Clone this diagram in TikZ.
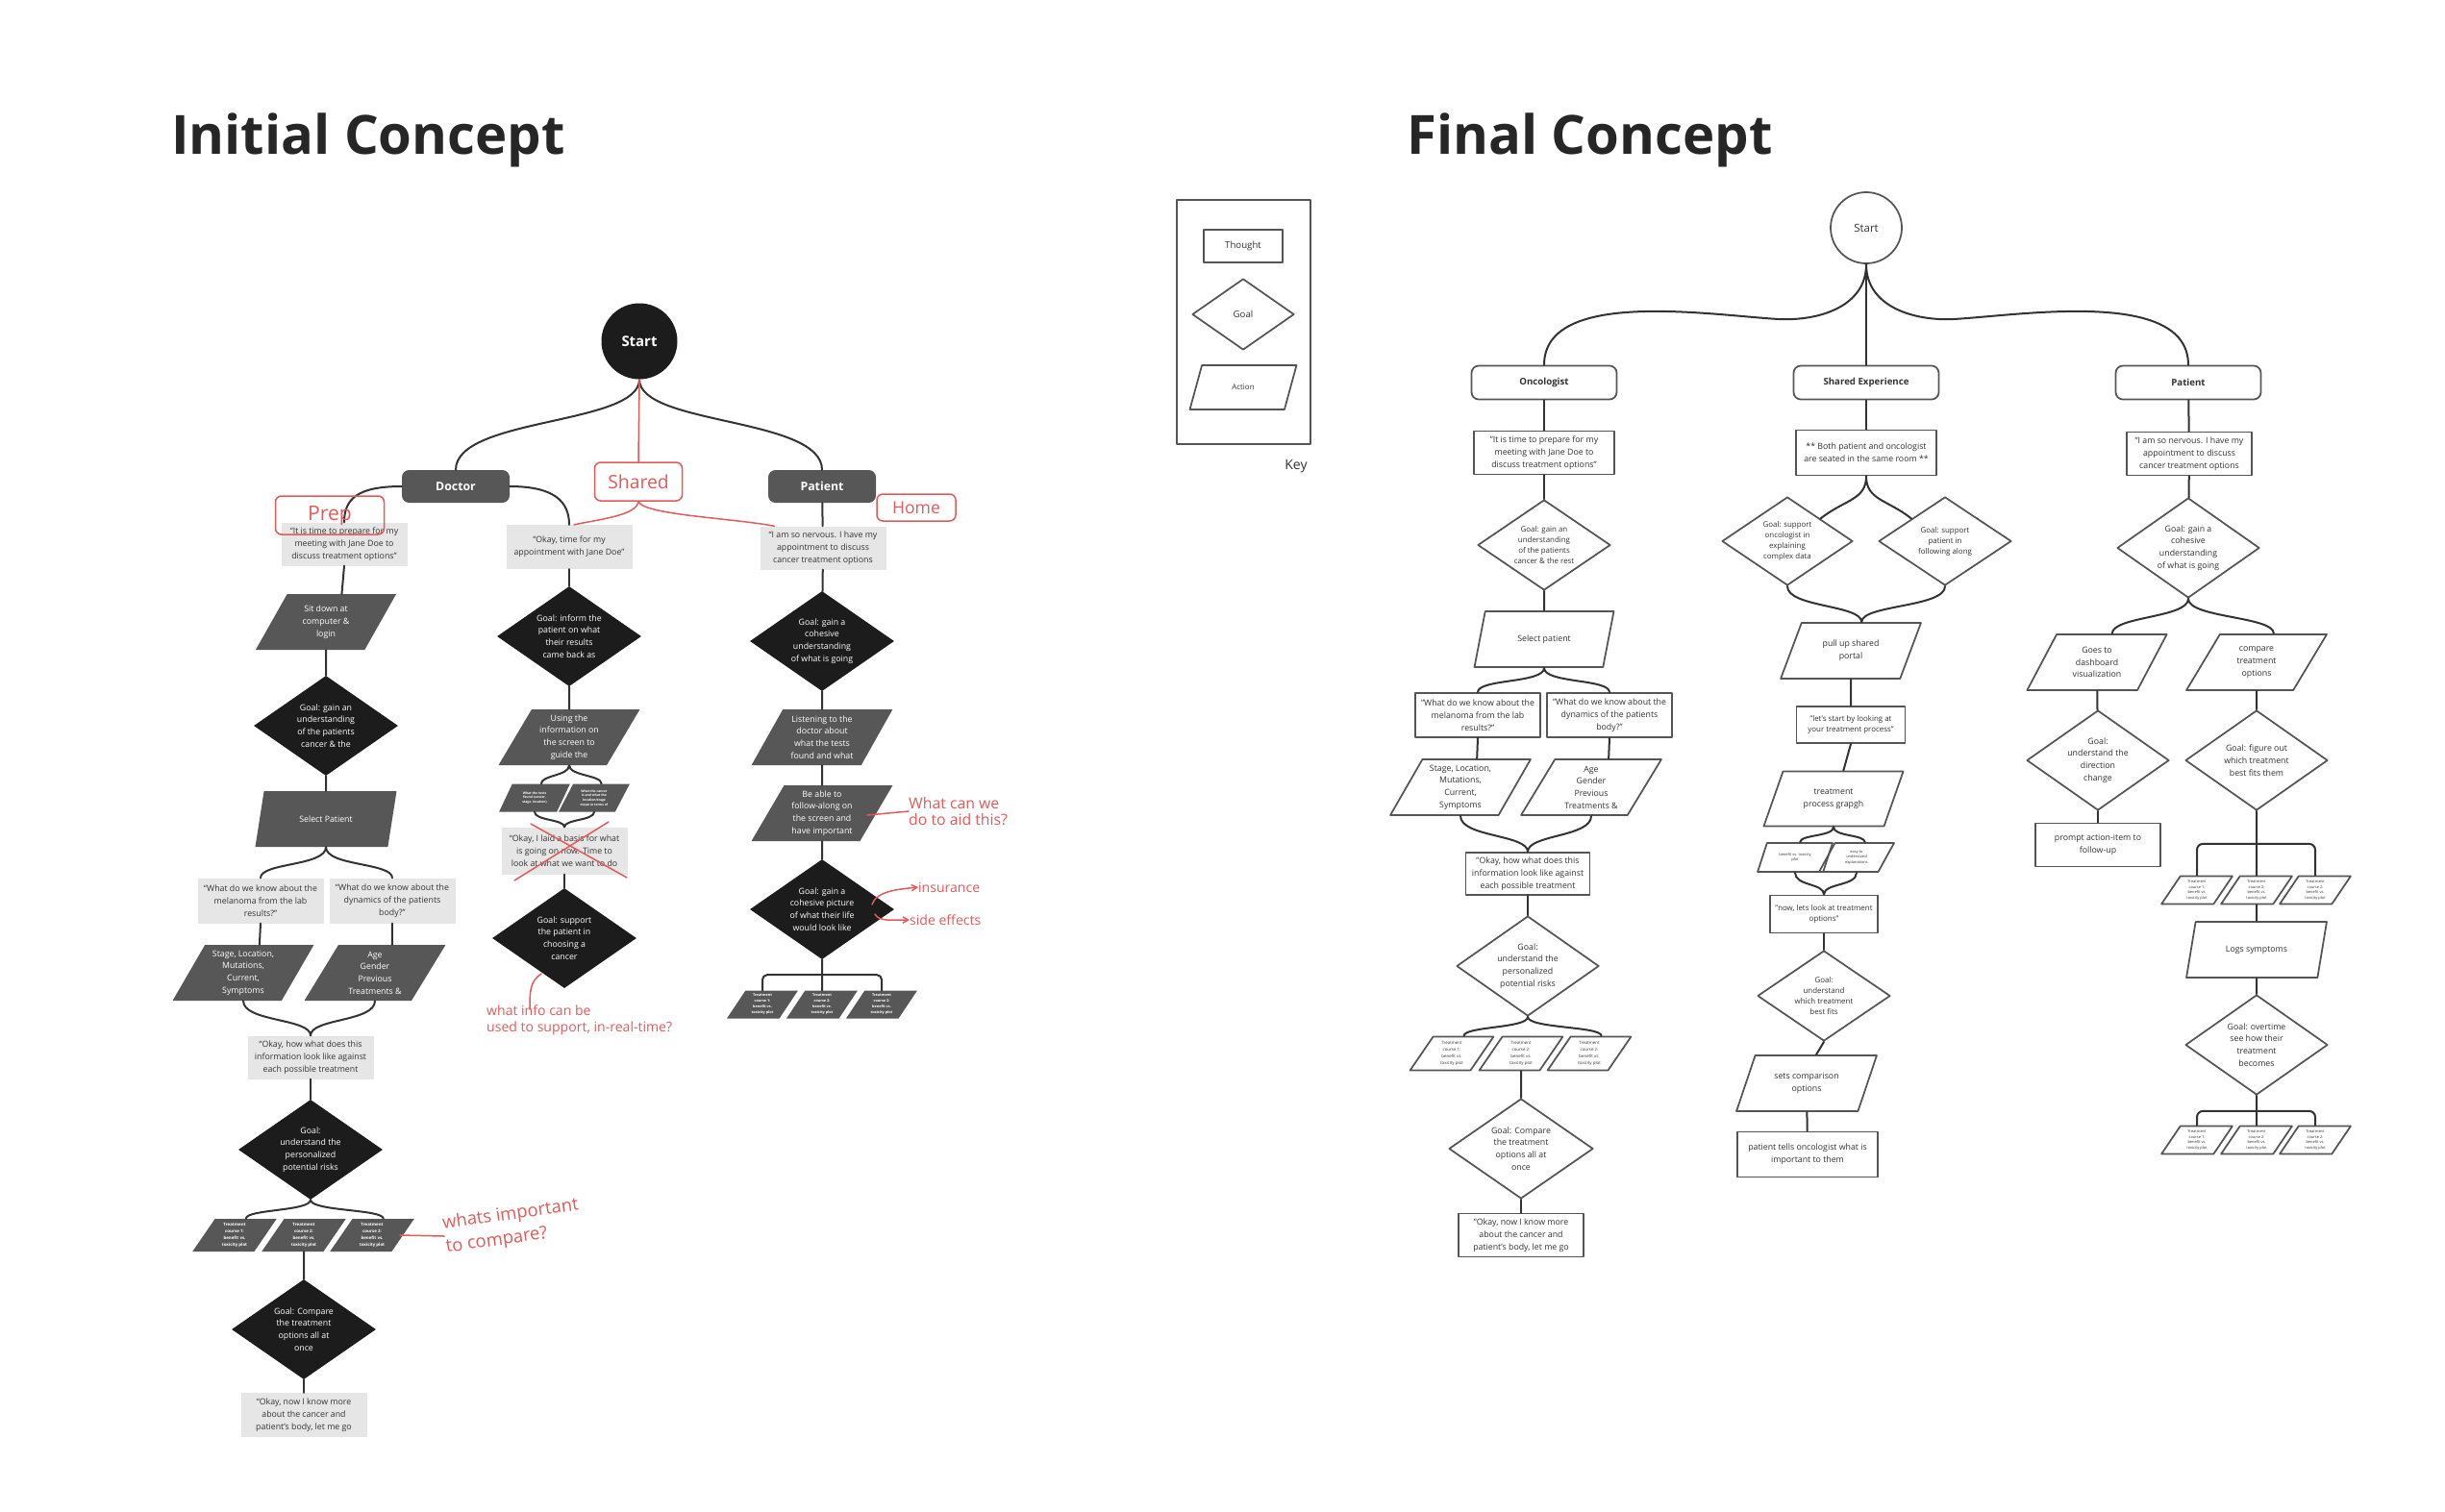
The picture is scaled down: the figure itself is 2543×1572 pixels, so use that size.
\documentclass[tikz,border=0pt]{standalone}
\usepackage{fontspec}
\setmainfont{Open Sans}
\usetikzlibrary{shapes.geometric,calc,arrows.meta}
\definecolor{ink}{HTML}{333333}
\definecolor{dark}{HTML}{1C1C1C}
\definecolor{slate}{HTML}{575757}
\definecolor{pale}{HTML}{E6E6E6}
\definecolor{rim}{HTML}{555555}
\definecolor{annot}{HTML}{E25B5B}
\newcommand\fsz[2]{\fontsize{#1}{#2}\selectfont}

\begin{document}
\begin{tikzpicture}[x=0.4mm, y=-0.4mm, line join=round, line cap=round,
    sz/.style 2 args={minimum width=#1*0.4mm, minimum height=#2*0.4mm},
    link/.style={draw=ink, line width=0.8mm},
    redpen/.style={draw=annot, line width=0.6mm},
    txt/.style={align=center, inner sep=0pt, font=\fsz{10}{14.5}},
    para/.style={trapezium, trapezium left angle=60, trapezium right angle=120, trapezium stretches=true},
    title/.style={anchor=west, inner sep=0pt, text=black!85, font=\bfseries\fsz{64}{70}},
    lstart/.style={circle, fill=dark, text=white, inner sep=0pt, minimum size=79*0.4mm, font=\bfseries\fsz{17}{20}},
    lrole/.style={fill=slate, text=white, rounded corners=3mm, inner sep=0pt, sz={112}{34}, font=\bfseries\fsz{14}{16}},
    lthought/.style={txt, fill=pale, text=ink, sz={131}{45}},
    lgoal/.style={txt, diamond, shape aspect=1.45, fill=dark, text=white, sz={150}{104}},
    laction/.style={txt, para, fill=slate, text=white, sz={147}{58}},
    lsmall/.style={laction, font=\bfseries\fsz{5}{8.3}, sz={88}{34}},
    rstart/.style={circle, draw=rim, line width=0.7mm, text=ink, inner sep=0pt, minimum size=74*0.4mm, font=\fsz{13}{15}},
    rrole/.style={draw=rim, line width=0.7mm, text=ink, rounded corners=3mm, inner sep=0pt, sz={151}{35}, font=\bfseries\fsz{11}{13}},
    rthought/.style={txt, draw=rim, line width=0.7mm, text=ink, sz={146}{45}},
    rgoal/.style={txt, diamond, shape aspect=1.45, draw=rim, line width=0.7mm, text=ink, sz={148}{104}},
    raction/.style={txt, para, draw=rim, line width=0.7mm, text=ink, sz={146}{58}},
    rsmall/.style={raction, font=\fsz{5}{8}, sz={87}{35}},
    redbox/.style={draw=annot, line width=0.6mm, rounded corners=2.5mm, text=annot, inner sep=0pt},
    note/.style={text=annot, inner sep=0pt, align=left, font=\fsz{16}{19}}]

\useasboundingbox (0,0) rectangle (2543,1572);
\fill[white] (0,0) rectangle (2543,1572);

\node[title] (tInit) at (178,146) {Initial Concept};
\node[title] (tFinal) at (1463,146) {Final Concept};

% initial concept
\node[lstart] (lStart) at (665,355) {Start};
\node[lrole] (lDoc) at (474,506) {Doctor};
\node[lrole] (lPat) at (855,506) {Patient};

\node[lthought] (dT1) at (358,566) {“It is time to prepare for my\\meeting with Jane Doe to\\discuss treatment options”};
\node[laction] (dA1) at (339,647) {Sit down at\\computer \&\\login};
\node[lgoal] (dG1) at (339,755) {Goal: gain an\\understanding\\of the patients\\cancer \& the};
\node[laction] (dA2) at (339,852) {Select Patient};
\node[lthought, sz={131}{47}] (dT2) at (271,937) {“What do we know about the\\melanoma from the lab\\results?”};
\node[lthought, sz={131}{47}] (dT3) at (408,937) {“What do we know about the\\dynamics of the patients\\body?”};
\node[laction] (dA3) at (253,1012) {Stage, Location,\\Mutations,\\Current,\\Symptoms};
\node[laction] (dA4) at (390,1012) {Age\\Gender\\Previous\\Treatments \&};
\node[lthought] (dT4) at (323,1100) {“Okay, how what does this\\information look like against\\each possible treatment};
\node[lgoal] (dG2) at (323,1196) {Goal:\\understand the\\personalized\\potential risks};
\foreach \n/\x/\crs in {1/244/1, 2/316/2, 3/387/2}
  \node[lsmall] (dC\n) at (\x,1285) {Treatment\\course \crs:\\benefit vs.\\toxicity plot};
\node[lgoal] (dG3) at (316,1383) {Goal: Compare\\the treatment\\options all at\\once};
\node[lthought, sz={131}{46}] (dT5) at (316,1472) {“Okay, now I know more\\about the cancer and\\patient’s body, let me go};

\node[lthought, sz={131}{46}] (sT1) at (592,569) {“Okay, time for my\\appointment with Jane Doe”};
\node[lgoal] (sG1) at (592,662) {Goal: inform the\\patient on what\\their results\\came back as};
\node[laction] (sA1) at (592,767) {Using the\\information on\\the screen to\\guide the};
\node[lsmall, sz={74}{29}, font=\bfseries\fsz{3.8}{5.5}] (sC1) at (556,830) {What the tests\\found (cancer,\\stage, location)};
\node[lsmall, sz={74}{29}, font=\bfseries\fsz{3.8}{5.5}] (sC2) at (618,830) {What the cancer\\is and what the\\location/stage\\mean in terms of};
\node[lthought, sz={131}{49}] (sT2) at (587,885) {“Okay, I laid a basis for what\\is going on now. Time to\\look at what we want to do};
\node[lgoal] (sG2) at (587,976) {Goal: support\\the patient in\\choosing a\\cancer};

\node[lthought] (pT1) at (856,570) {“I am so nervous. I have my\\appointment to discuss\\cancer treatment options};
\node[lgoal] (pG1) at (855,667) {Goal: gain a\\cohesive\\understanding\\of what is going};
\node[laction] (pA1) at (855,767) {Listening to the\\doctor about\\what the tests\\found and what};
\node[laction] (pA2) at (855,846) {Be able to\\follow-along on\\the screen and\\have important};
\node[lgoal] (pG2) at (855,946) {Goal: gain a\\cohesive picture\\of what their life\\would look like};
\foreach \n/\x/\crs in {1/793/1, 2/855/2, 3/917/2}
  \node[lsmall, sz={74}{29}, font=\bfseries\fsz{4.3}{6.8}] (pC\n) at (\x,1045) {Treatment\\course \crs:\\benefit vs.\\toxicity plot};

\draw[link] (lStart.south) .. controls +(0,48) and +(0,-55) .. (lDoc.north);
\draw[link] (lStart.south) .. controls +(0,48) and +(0,-55) .. (lPat.north);
\draw[link] (lDoc.west) .. controls +(-45,0) and +(0,-25) .. (dT1.north);
\draw[link] (lDoc.east) .. controls +(45,0) and +(0,-25) .. (sT1.north);
\draw[link] (lPat) -- (pT1);

\draw[link] (dT1.south) -- (dA1.top side);
\draw[link] (dA1) -- (dG1);
\draw[link] (dG1) -- (dA2);
\foreach \nm in {dT2,dT3}
  \draw[link] (dA2.south) .. controls +(0,20) and +(0,-16) .. (\nm.north);
\draw[link] (dT2.south) -- (dA3.top side);
\draw[link] (dT3.south) -- (dA4.top side);
\foreach \nm in {dA3,dA4}
  \draw[link] (\nm.south) .. controls +(0,22) and +(0,-18) .. (dT4.north);
\draw[link] (dT4) -- (dG2);
\foreach \nm in {dC1,dC3}
  \draw[link] (dG2.south) .. controls +(0,12) and +(0,-10) .. (\nm.top side);
\draw[link] (dC2) -- (dG3);
\draw[link] (dG3) -- (dT5);

\draw[link] (sT1) -- (sG1);
\draw[link] (sG1) -- (sA1);
\foreach \nm in {sC1,sC2}
  \draw[link] (sA1.south) .. controls +(0,11) and +(0,-9) .. (\nm.top side);
\foreach \nm in {sC1,sC2}
  \draw[link] (\nm.south) .. controls +(0,9) and +(0,-8) .. (sT2.north);
\draw[link] (sT2) -- (sG2);

\draw[link] (pT1) -- (pG1);
\draw[link] (pG1) -- (pA1);
\draw[link] (pA1) -- (pA2);
\draw[link] (pA2) -- (pG2);
\draw[link, rounded corners=2mm] (pC1.north) |- ($(pG2.south)+(0,16)$) -| (pC3.north);
\draw[link] (pG2.south) -- (pC2.north);

% red notes
\node[redbox, sz={113}{40}, font=\fsz{24}{26}] (prep) at (343,536) {Prep};
\node[redbox, sz={91}{40}, font=\fsz{22}{24}] (lShared) at (664,501) {Shared};
\node[redbox, sz={82}{28}, font=\fsz{20}{22}] (home) at (953,528) {Home};
\draw[redpen] (lStart.south) -- (lShared.north);
\draw[redpen] (lShared.south) .. controls +(-2,14) and +(30,-6) .. ($(sT1.north)+(5,0)$);
\draw[redpen] (lShared.south) .. controls +(5,14) and +(-40,-8) .. ($(pT1.north west)+(15,0)$);
\draw[redpen] (535,916) -- (633,855) (552,857) -- (652,913);

\node[note, anchor=west, font=\fsz{18}{19}] (aid) at (945,844) {What can we\\do to aid this?};
\node[note, anchor=west] (ins) at (955,923) {insurance};
\node[note, anchor=west] (side) at (946,957) {side effects};
\node[note, anchor=north west] (rt) at (506,1046) {what info can be\\used to support, in-real-time?};
\node[note, anchor=west, rotate=8, font=\fsz{21}{28}] (cmp) at (462,1286) {whats important\\to compare?};
\coordinate (aidTail) at (902,848);
\coordinate (insTail) at (907,941);
\coordinate (sideTail) at (910,951);
\coordinate (rtTail) at (563,1013);
\coordinate (rtHead) at (551,1050);
\coordinate (cmpTail) at (416,1285);
\draw[redpen] (aidTail) -- (aid.west);
\draw[redpen, -{Straight Barb[length=2.2mm,width=2.5mm]}] (insTail) .. controls +(4,-14) and +(-20,2) .. (ins.west);
\draw[redpen, -{Straight Barb[length=2.2mm,width=2.5mm]}] (sideTail) .. controls +(4,8) and +(-18,0) .. (side.west);
\draw[redpen] (rtTail) .. controls +(-12,8) and +(0,-18) .. (rtHead);
\draw[redpen] (cmpTail) -- (cmp.west);

% final concept
\draw[rim, line width=0.7mm] (1224,208) rectangle (1363,462);
\node[rthought, sz={82}{34}, font=\fsz{11}{13}] (kT) at (1293,256) {Thought};
\node[rgoal, sz={106}{74}, font=\fsz{11}{13}] (kG) at (1293,327) {Goal};
\node[raction, sz={111}{46}, font=\fsz{9}{11}] (kA) at (1293,403) {Action};
\node[text=ink, font=\fsz{16}{18}] (kLabel) at (1348,485) {Key};

\node[rstart] (rStart) at (1941,237) {Start};
\node[rrole] (rOnc) at (1606,398) {Oncologist};
\node[rrole] (rSh) at (1941,398) {Shared Experience};
\node[rrole] (rPat) at (2276,398) {Patient};

\node[rthought] (oT1) at (1606,471) {"It is time to prepare for my\\meeting with Jane Doe to\\discuss treatment options"};
\node[rgoal, sz={138}{94}, font=\fsz{9}{12.5}] (oG1) at (1606,567) {Goal: gain an\\understanding\\of the patients\\cancer \& the rest};
\node[raction] (oA1) at (1606,665) {Select patient};
\node[rthought, sz={130}{46}] (oT2) at (1537,744) {"What do we know about the\\melanoma from the lab\\results?"};
\node[rthought, sz={130}{46}] (oT3) at (1674,744) {"What do we know about the\\dynamics of the patients\\body?"};
\node[raction] (oA2) at (1519,819) {Stage, Location,\\Mutations,\\Current,\\Symptoms};
\node[raction] (oA3) at (1655,819) {Age\\Gender\\Previous\\Treatments \&};
\node[rthought, sz={129}{44}] (oT4) at (1589,909) {"Okay, how what does this\\information look like against\\each possible treatment};
\node[rgoal] (oG2) at (1589,1005) {Goal:\\understand the\\personalized\\potential risks};
\foreach \n/\x/\crs in {1/1510/1, 2/1582/2, 3/1653/2}
  \node[rsmall] (oC\n) at (\x,1096) {Treatment\\course \crs:\\benefit vs.\\toxicity plot};
\node[rgoal, sz={150}{104}] (oG3) at (1582,1195) {Goal: Compare\\the treatment\\options all at\\once};
\node[rthought, sz={130}{45}] (oT5) at (1582,1285) {"Okay, now I know more\\about the cancer and\\patient's body, let me go};

\node[rthought, sz={146}{47}] (xT1) at (1941,471) {** Both patient and oncologist\\are seated in the same room **};
\node[rgoal, sz={136}{92}, font=\fsz{9}{12.5}] (xG1) at (1859,563) {Goal: support\\oncologist in\\explaining\\complex data};
\node[rgoal, sz={138}{92}, font=\fsz{9}{12.5}] (xG2) at (2023,563) {Goal: support\\patient in\\following along};
\node[raction] (xA1) at (1925,677) {pull up shared\\portal};
\node[rthought, sz={113}{38}, font=\fsz{9}{12}] (xT2) at (1925,754) {"let's start by looking at\\your treatment process"};
\node[raction, sz={146}{57}] (xA2) at (1907,831) {treatment\\process grapgh};
\node[rsmall, sz={78}{30}, font=\fsz{4.5}{6.5}] (xC1) at (1867,892) {benefit vs. toxicity\\plot};
\node[rsmall, sz={78}{30}, font=\fsz{4.5}{6.5}] (xC2) at (1931,892) {easy to\\understand\\explanations};
\node[rthought, sz={112}{39}, font=\fsz{9}{12.5}] (xT3) at (1897,951) {"now, lets look at treatment\\options"};
\node[rgoal, sz={138}{94}, font=\fsz{9}{12.5}] (xG3) at (1897,1036) {Goal:\\understand\\which treatment\\best fits};
\node[raction] (xA3) at (1879,1127) {sets comparison\\options};
\node[rthought, sz={146}{47}] (xT4) at (1880,1201) {patient tells oncologist what is\\important to them};

\node[rthought, sz={130}{45}] (qT1) at (2277,472) {"I am so nervous. I have my\\appointment to discuss\\cancer treatment options};
\node[rgoal] (qG1) at (2276,570) {Goal: gain a\\cohesive\\understanding\\of what is going};
\node[raction] (qA1) at (2181,689) {Goes to\\dashboard\\visualization};
\node[raction] (qA2) at (2347,689) {compare\\treatment\\options};
\node[rgoal] (qG2) at (2182,791) {Goal:\\understand the\\direction\\change};
\node[rgoal] (qG3) at (2347,791) {Goal: figure out\\which treatment\\best fits them};
\node[rthought, sz={130}{45}] (qT2) at (2182,879) {prompt action-item to\\follow-up};
\foreach \n/\x/\crs in {1/2285/1, 2/2347/2, 3/2408/2}
  \node[rsmall, sz={74}{29}, font=\fsz{4.5}{6.5}] (qC\n) at (\x,926) {Treatment\\course \crs:\\benefit vs.\\toxicity plot};
\node[raction] (qA3) at (2347,988) {Logs symptoms};
\node[rgoal] (qG4) at (2347,1087) {Goal: overtime\\see how their\\treatment\\becomes};
\foreach \n/\x/\crs in {1/2285/1, 2/2347/2, 3/2408/2}
  \node[rsmall, sz={74}{29}, font=\fsz{4.5}{6.5}] (qD\n) at (\x,1186) {Treatment\\course \crs:\\benefit vs.\\toxicity plot};

\draw[link] (rStart.south) .. controls +(0,45) and +(40,2) .. (1850,332) .. controls +(-70,-4) and +(0,-80) .. (rOnc.north);
\draw[link] (rStart.south) .. controls +(0,45) and +(-40,2) .. (2032,332) .. controls +(70,-4) and +(0,-80) .. (rPat.north);
\draw[link] (rStart) -- (rSh);

\draw[link] (rOnc) -- (oT1);
\draw[link] (oT1) -- (oG1);
\draw[link] (oG1) -- (oA1);
\foreach \nm in {oT2,oT3}
  \draw[link] (oA1.south) .. controls +(0,16) and +(0,-14) .. (\nm.north);
\draw[link] (oT2.south) -- (oA2.top side);
\draw[link] (oT3.south) -- (oA3.top side);
\foreach \nm in {oA2,oA3}
  \draw[link] (\nm.south) .. controls +(0,22) and +(0,-18) .. (oT4.north);
\draw[link] (oT4) -- (oG2);
\foreach \nm in {oC1,oC3}
  \draw[link] (oG2.south) .. controls +(0,12) and +(0,-10) .. (\nm.top side);
\draw[link] (oC2) -- (oG3);
\draw[link] (oG3) -- (oT5);

\draw[link] (rSh) -- (xT1);
\draw[link] (xT1.south) .. controls +(0,25) and +(25,-20) .. (xG1.north east);
\draw[link] (xT1.south) .. controls +(0,25) and +(-25,-20) .. (xG2.north west);
\foreach \nm in {xG1,xG2}
  \draw[link] (\nm.south) .. controls +(0,22) and +(0,-18) .. (xA1.top side);
\draw[link] (xA1) -- (xT2);
\draw[link] (xT2.south) -- (xA2.top side);
\foreach \nm in {xC1,xC2}
  \draw[link] (xA2.south) .. controls +(0,10) and +(0,-8) .. (\nm.top side);
\foreach \nm in {xC1,xC2}
  \draw[link] (\nm.south) .. controls +(0,14) and +(0,-12) .. (xT3.north);
\draw[link] (xT3) -- (xG3);
\draw[link] (xG3.south) -- (xA3.top side);
\draw[link] (xA3) -- (xT4);

\draw[link] (rPat) -- (qT1);
\draw[link] (qT1) -- (qG1);
\foreach \nm in {qA1,qA2}
  \draw[link] (qG1.south) .. controls +(0,20) and +(0,-18) .. (\nm.top side);
\draw[link] (qA1) -- (qG2);
\draw[link] (qA2) -- (qG3);
\draw[link] (qG2) -- (qT2);
\draw[link, rounded corners=2.5mm] (qC1.north) |- ($(qG3.south)+(0,34)$) -| (qC3.north);
\draw[link] (qG3.south) -- (qC2.north);
\draw[link] (qC2) -- (qA3);
\draw[link] (qA3) -- (qG4);
\draw[link, rounded corners=2.5mm] (qD1.north) |- ($(qG4.south)+(0,16)$) -| (qD3.north);
\draw[link] (qG4.south) -- (qD2.north);
\end{tikzpicture}
\end{document}
